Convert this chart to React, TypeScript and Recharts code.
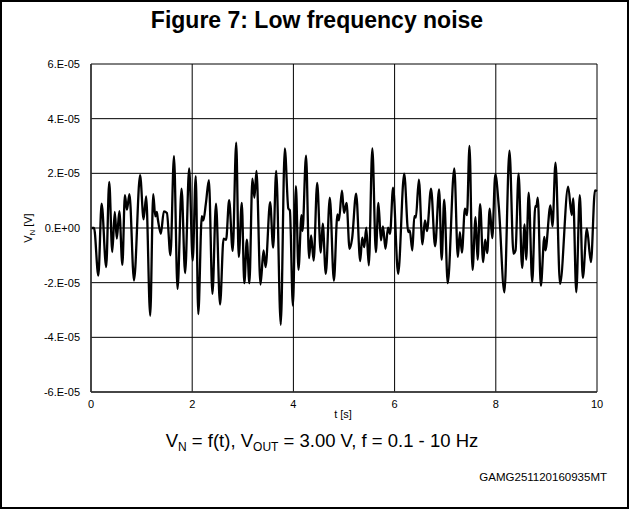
import React from "react";
import { LineChart, Line, XAxis, YAxis, CartesianGrid } from "recharts";

const tSeconds = [
  0, 0.06, 0.145, 0.21, 0.3, 0.36, 0.42, 0.47, 0.51, 0.56, 0.62, 0.67, 0.71, 0.76, 0.85, 0.97,
  1.04, 1.09, 1.17, 1.23, 1.27, 1.3, 1.32, 1.38, 1.44, 1.5, 1.57, 1.64, 1.71, 1.79, 1.86, 1.94,
  2.01, 2.07, 2.12, 2.19, 2.22, 2.27, 2.33, 2.4, 2.47, 2.55, 2.62, 2.67, 2.73, 2.8, 2.87, 2.92, 2.98,
  3.03, 3.08, 3.13, 3.19, 3.23, 3.27, 3.35, 3.41, 3.45, 3.54, 3.6, 3.66, 3.75, 3.83, 3.9, 3.93, 3.99,
  4.05, 4.1, 4.16, 4.18, 4.25, 4.31, 4.35, 4.4, 4.47, 4.54, 4.58, 4.64, 4.72, 4.8, 4.87, 4.9, 4.96,
  5.0, 5.05, 5.11, 5.16, 5.24, 5.32, 5.36, 5.4, 5.44, 5.49, 5.56, 5.63, 5.68, 5.73, 5.77, 5.82, 5.87, 5.91, 5.97,
  6.07, 6.19, 6.27, 6.3, 6.35, 6.39, 6.42, 6.48, 6.55, 6.6, 6.64, 6.72, 6.8, 6.88, 6.93, 6.98,
  7.05, 7.18, 7.25, 7.29, 7.33, 7.39, 7.43, 7.48, 7.54, 7.6, 7.64, 7.69, 7.75, 7.79, 7.83, 7.88, 7.93, 7.99,
  8.06, 8.17, 8.27, 8.35, 8.39, 8.45, 8.52, 8.57, 8.6, 8.65, 8.72, 8.78, 8.8, 8.83, 8.89, 8.96, 8.98,
  9.08, 9.12, 9.18, 9.27, 9.43, 9.5, 9.53, 9.59, 9.66, 9.72, 9.8, 9.88, 9.96, 10.0,
];

const noiseVolts = [
  0, 0, -1.74e-5, 0.89e-5, -1.43e-5, 1.69e-5, -0.88e-5, 0.59e-5, -0.39e-5, 0.62e-5, -1.35e-5, 1.2e-5, 0.67e-5, 1.24e-5, -1.92e-5, 1.93e-5,
  0.32e-5, 1.16e-5, -3.21e-5, 1.24e-5, 0.43e-5, 0.59e-5, 0.34e-5, -0.21e-5, 0.61e-5, 0.55e-5, -1.0e-5, 2.63e-5, -2.23e-5, 1.44e-5, -1.65e-5, 2.18e-5,
  -1.19e-5, 1.9e-5, -3.15e-5, 0.43e-5, 0.28e-5, 0.89e-5, 1.75e-5, -2.41e-5, 0.89e-5, -2.8e-5, -0.39e-5, -0.43e-5, 1.02e-5, -0.84e-5, 3.12e-5, -1.06e-5, 0.92e-5,
  -2.02e-5, -0.43e-5, -2.02e-5, 1.81e-5, 1.11e-5, 2.09e-5, -2.07e-5, -0.82e-5, -1.43e-5, 0.95e-5, -0.72e-5, 2.09e-5, -3.54e-5, 2.91e-5, 0.71e-5, 0.65e-5, -2.84e-5,
  1.53e-5, -1.53e-5, 0.47e-5, -0.11e-5, 2.65e-5, -1.1e-5, -0.27e-5, -1.19e-5, 1.65e-5, -0.9e-5, 0.16e-5, -1.68e-5, 1.11e-5, -1.93e-5, 0.5e-5, 0.28e-5, 1.37e-5,
  0.55e-5, 0.92e-5, -0.76e-5, -0.39e-5, 1.26e-5, -1.21e-5, -0.35e-5, -0.7e-5, 0.01e-5, -1.37e-5, 2.91e-5, -0.88e-5, 0.92e-5, -0.45e-5, 0.06e-5, -0.76e-5, 0.01e-5, -0.21e-5, 1.48e-5,
  -1.68e-5, 1.99e-5, -0.15e-5, -0.09e-5, -0.82e-5, 0.43e-5, 0.38e-5, 1.77e-5, -0.6e-5, 0.28e-5, -0.11e-5, 1.44e-5, -0.67e-5, 1.41e-5, -1.16e-5, 1.04e-5,
  -2.02e-5, 2.18e-5, -1.06e-5, -0.15e-5, -0.9e-5, 0.71e-5, 0.47e-5, 3.0e-5, -1.53e-5, 0.4e-5, -1.16e-5, 0.87e-5, -1.25e-5, -0.43e-5, -0.92e-5, 0.71e-5, -0.37e-5, 1.97e-5,
  0.77e-5, -2.35e-5, 2.83e-5, -0.94e-5, -0.82e-5, 1.99e-5, -1.46e-5, 0.13e-5, -1.16e-5, 1.29e-5, -1.98e-5, 0.8e-5, 0.77e-5, 1.11e-5, -2.11e-5, -0.33e-5, -0.82e-5,
  0.83e-5, 0.06e-5, 2.39e-5, -2.04e-5, 1.51e-5, 0.47e-5, 1.08e-5, -2.35e-5, 1.2e-5, -1.82e-5, -0.02e-5, -1.25e-5, 1.38e-5, 1.35e-5,
];

const xTicks = [0, 2, 4, 6, 8, 10];
const yTicks = [-6e-5, -4e-5, -2e-5, 0, 2e-5, 4e-5, 6e-5];
const yTickLabels = ["-6.E-05", "-4.E-05", "-2.E-05", "0.E+00", "2.E-05", "4.E-05", "6.E-05"];

const data = tSeconds.map((t, i) => ({ t, v: noiseVolts[i] }));

const FONT = "'Liberation Sans', Arial, Helvetica, sans-serif";

export default function App() {
  return (
    <div style={{ position: "absolute", left: 0, top: 0, width: 629, height: 509, background: "#fff", fontFamily: FONT }}>
      <div style={{ position: "absolute", left: 0, top: 0 }}>
        <LineChart width={629} height={509} data={data} margin={{ top: 64, right: 32, bottom: 87, left: 36 }}>
          <CartesianGrid stroke="#000" strokeWidth={1} horizontal vertical />
          <XAxis
            dataKey="t"
            type="number"
            domain={[0, 10]}
            ticks={xTicks}
            height={30}
            tickLine={false}
            tickSize={0}
            tickMargin={8}
            axisLine={{ stroke: "#333", strokeWidth: 1.5 }}
            tick={{ fill: "#000", fontSize: 11, fontFamily: FONT }}
            interval={0}
          />
          <YAxis
            type="number"
            domain={[-6e-5, 6e-5]}
            ticks={yTicks}
            width={55}
            tickLine={false}
            tickSize={0}
            tickMargin={11}
            axisLine={{ stroke: "#333", strokeWidth: 1.5 }}
            tick={{ fill: "#000", fontSize: 11, fontFamily: FONT }}
            tickFormatter={(v: number, i: number) => yTickLabels[i]}
            interval={0}
          />
          <Line
            dataKey="v"
            type="monotone"
            stroke="#000"
            strokeWidth={2.3}
            dot={false}
            isAnimationActive={false}
          />
        </LineChart>
      </div>
      <svg width={629} height={509} style={{ position: "absolute", left: 0, top: 0, pointerEvents: "none" }}>
        <rect x={1} y={1} width={627} height={507} fill="none" stroke="#000" strokeWidth={2} />
        <text x={317} y={28} textAnchor="middle" fontSize={23} fontWeight="bold" fontFamily={FONT} fill="#000">
          Figure 7: Low frequency noise
        </text>
        <text transform="translate(32,228) rotate(-90)" textAnchor="middle" fontSize={11} fontFamily={FONT} fill="#000">
          V<tspan fontSize={7.5} dy={2.5}>N</tspan>
          <tspan dy={-2.5}> [V]</tspan>
        </text>
        <text x={343} y={418} textAnchor="middle" fontSize={11} fontFamily={FONT} fill="#000">
          t [s]
        </text>
        <text x={322} y={447} textAnchor="middle" fontSize={18.5} fontFamily={FONT} fill="#000">
          V<tspan fontSize={12} dy={4}>N</tspan>
          <tspan dy={-4}> = f(t), V</tspan>
          <tspan fontSize={12} dy={4}>OUT</tspan>
          <tspan dy={-4}> = 3.00 V,  f = 0.1 - 10 Hz</tspan>
        </text>
        <text x={607} y={481} textAnchor="end" fontSize={11.5} fontFamily={FONT} fill="#000">
          GAMG251120160935MT
        </text>
      </svg>
    </div>
  );
}
